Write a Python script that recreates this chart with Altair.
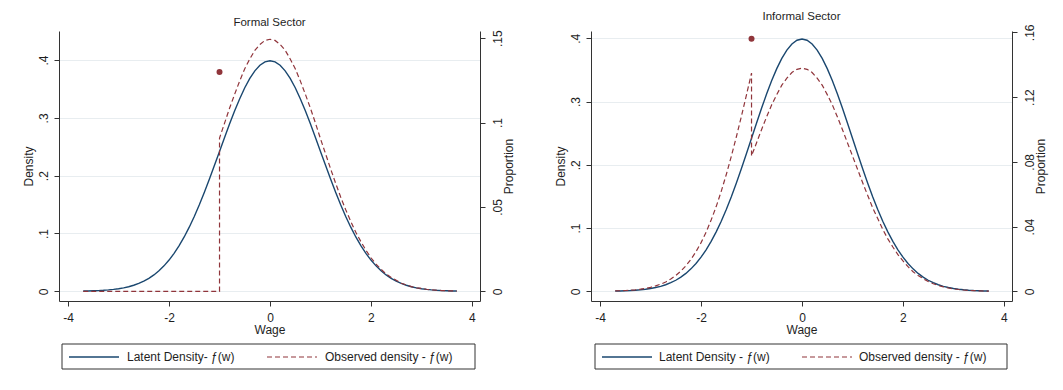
import altair as alt
import pandas as pd

# ---------------- data ----------------
wage = [-3.7, -3.6, -3.5, -3.4, -3.3, -3.2, -3.1, -3.0, -2.9, -2.8, -2.7, -2.6, -2.5,
        -2.4, -2.3, -2.2, -2.1, -2.0, -1.9, -1.8, -1.7, -1.6, -1.5, -1.4, -1.3, -1.2,
        -1.1, -1.0, -0.9, -0.8, -0.7, -0.6, -0.5, -0.4, -0.3, -0.2, -0.1, 0.0,
        0.1, 0.2, 0.3, 0.4, 0.5, 0.6, 0.7, 0.8, 0.9, 1.0, 1.1, 1.2, 1.3, 1.4, 1.5,
        1.6, 1.7, 1.8, 1.9, 2.0, 2.1, 2.2, 2.3, 2.4, 2.5, 2.6, 2.7, 2.8, 2.9, 3.0,
        3.1, 3.2, 3.3, 3.4, 3.5, 3.6, 3.7]

latent_density = [0.0004, 0.0006, 0.0009, 0.0012, 0.0017, 0.0024, 0.0033, 0.0044, 0.0060,
                  0.0079, 0.0104, 0.0136, 0.0175, 0.0224, 0.0283, 0.0355, 0.0440, 0.0540,
                  0.0656, 0.0790, 0.0940, 0.1109, 0.1295, 0.1497, 0.1714, 0.1942, 0.2179,
                  0.2420, 0.2661, 0.2897, 0.3123, 0.3332, 0.3521, 0.3683, 0.3814, 0.3910,
                  0.3970, 0.3989,
                  0.3970, 0.3910, 0.3814, 0.3683, 0.3521, 0.3332, 0.3123, 0.2897, 0.2661,
                  0.2420, 0.2179, 0.1942, 0.1714, 0.1497, 0.1295, 0.1109, 0.0940, 0.0790,
                  0.0656, 0.0540, 0.0440, 0.0355, 0.0283, 0.0224, 0.0175, 0.0136, 0.0104,
                  0.0079, 0.0060, 0.0044, 0.0033, 0.0024, 0.0017, 0.0012, 0.0009, 0.0006,
                  0.0004]

# Formal sector observed density (zero below the cut-off at -1, then jumps up)
formal_obs_wage = [-3.7, -1.0, -1.0, -0.9, -0.8, -0.7, -0.6, -0.5, -0.4, -0.3, -0.2, -0.1, 0.0,
                   0.1, 0.2, 0.3, 0.4, 0.5, 0.6, 0.7, 0.8, 0.9, 1.0, 1.1, 1.2, 1.3, 1.4, 1.5,
                   1.6, 1.7, 1.8, 1.9, 2.0, 2.1, 2.2, 2.3, 2.4, 2.5, 2.6, 2.7, 2.8, 2.9, 3.0,
                   3.1, 3.2, 3.3, 3.4, 3.5, 3.6, 3.7]
formal_obs_density = [0.0, 0.0, 0.265, 0.291, 0.317, 0.341, 0.364, 0.385, 0.402, 0.417, 0.427,
                      0.434, 0.436, 0.434, 0.427, 0.417, 0.402, 0.385, 0.364, 0.341, 0.317,
                      0.291, 0.264, 0.238, 0.212, 0.187, 0.163, 0.141, 0.121, 0.102, 0.086,
                      0.071, 0.058, 0.047, 0.038, 0.030, 0.024, 0.019, 0.014, 0.011, 0.008,
                      0.006, 0.005, 0.0035, 0.0025, 0.0018, 0.0013, 0.0009, 0.0006, 0.0004]

# Informal sector observed density (spike just below -1, then drop)
informal_obs_wage = [-3.7, -3.6, -3.5, -3.4, -3.3, -3.2, -3.1, -3.0, -2.9, -2.8, -2.7, -2.6,
                     -2.5, -2.4, -2.3, -2.2, -2.1, -2.0, -1.9, -1.8, -1.7, -1.6, -1.5, -1.4,
                     -1.3, -1.2, -1.1, -1.0,
                     -1.0, -0.9, -0.8, -0.7, -0.6, -0.5, -0.4, -0.3, -0.2, -0.1, 0.0,
                     0.1, 0.2, 0.3, 0.4, 0.5, 0.6, 0.7, 0.8, 0.9, 1.0, 1.1, 1.2, 1.3, 1.4,
                     1.5, 1.6, 1.7, 1.8, 1.9, 2.0, 2.1, 2.2, 2.3, 2.4, 2.5, 2.6, 2.7, 2.8,
                     2.9, 3.0, 3.1, 3.2, 3.3, 3.4, 3.5, 3.6, 3.7]
informal_obs_density = [0.0006, 0.0009, 0.0013, 0.0017, 0.0024, 0.0034, 0.0047, 0.0063, 0.0086,
                        0.0113, 0.0148, 0.0194, 0.0250, 0.0319, 0.0404, 0.0506, 0.0627, 0.0770,
                        0.0935, 0.1127, 0.1340, 0.1581, 0.1847, 0.2135, 0.2444, 0.2769, 0.3107,
                        0.345,
                        0.214, 0.235, 0.256, 0.276, 0.295, 0.311, 0.326, 0.337, 0.346, 0.351,
                        0.353, 0.351, 0.346, 0.337, 0.326, 0.311, 0.295, 0.276, 0.256, 0.235,
                        0.214, 0.193, 0.172, 0.152, 0.132, 0.115, 0.098, 0.083, 0.070, 0.058,
                        0.048, 0.039, 0.031, 0.025, 0.020, 0.0155, 0.012, 0.0092, 0.007, 0.0053,
                        0.0039, 0.0029, 0.0021, 0.0015, 0.0011, 0.0008, 0.0005, 0.0004]

# Proportion at the minimum wage (right axis)
formal_point_wage = [-1.0]
formal_point_prop = [0.13]
informal_point_wage = [-1.0]
informal_point_prop = [0.156]

x_ticks = [-4, -2, 0, 2, 4]
density_ticks = [0, 0.1, 0.2, 0.3, 0.4]
formal_prop_ticks = [0, 0.05, 0.1, 0.15]
informal_prop_ticks = [0, 0.04, 0.08, 0.12, 0.16]

NAVY = "#1a476f"
MAROON = "#90353b"
FONT = "Liberation Sans"
INK = "#1e1e1e"
LABEL_EXPR = "datum.value == 0 ? '0' : replace(format(datum.value, '.2~f'), '0.', '.')"
X_LABEL_EXPR = "datum.value < 0 ? '-' + abs(datum.value) : '' + datum.value"

W, H = 421, 270


def panel(title, obs_w, obs_d, pt_w, pt_p, ydom, pdom, pticks, leg):
    lat_df = pd.DataFrame({"x": wage, "d": latent_density})
    obs_df = pd.DataFrame({"x": obs_w, "d": obs_d, "i": list(range(len(obs_w)))})
    pt_df = pd.DataFrame({"x": pt_w, "p": pt_p})

    xsc = alt.Scale(domain=[-4.18, 4.16], nice=False, zero=False)
    ysc = alt.Scale(domain=ydom, nice=False, zero=False)

    xaxis = alt.Axis(values=x_ticks, title="Wage", grid=False, labelAngle=0,
                     labelExpr=X_LABEL_EXPR,
                     tickSize=5, labelPadding=6, titlePadding=1, labelFontSize=12,
                     titleFontSize=12)
    yaxis = alt.Axis(values=density_ticks, title="Density", orient="left", grid=True,
                     labelAngle=-90, labelExpr=LABEL_EXPR, tickSize=5, labelPadding=4,
                     titlePadding=2, labelFontSize=12, titleFontSize=12)
    paxis = alt.Axis(values=pticks, title="Proportion", orient="right", grid=False,
                     labelAngle=-90, labelExpr=LABEL_EXPR, tickSize=5, labelPadding=7,
                     titlePadding=0, titleAngle=270, titleBaseline="top",
                     labelFontSize=12, titleFontSize=12)

    latent = alt.Chart(lat_df).mark_line(color=NAVY, strokeWidth=1.4).encode(
        x=alt.X("x:Q", scale=xsc, axis=xaxis),
        y=alt.Y("d:Q", scale=ysc, axis=yaxis),
    )
    observed = alt.Chart(obs_df).mark_line(color=MAROON, strokeWidth=1.2,
                                            strokeDash=[5, 3]).encode(
        x=alt.X("x:Q", scale=xsc),
        y=alt.Y("d:Q", scale=ysc),
        order=alt.Order("i:Q"),
    )
    dens = alt.layer(latent, observed)

    point = alt.Chart(pt_df).mark_circle(color=MAROON, opacity=1, size=36).encode(
        x=alt.X("x:Q", scale=xsc),
        y=alt.Y("p:Q", scale=alt.Scale(domain=pdom, nice=False, zero=False), axis=paxis),
    )

    # legend box below the plot
    one = pd.DataFrame({"k": [0]})
    box = alt.Chart(one).mark_rect(fill="white", stroke="#333333", strokeWidth=1).encode(
        x=alt.value(leg["x0"]), x2=alt.value(leg["x1"]),
        y=alt.value(313), y2=alt.value(338))
    s1 = alt.Chart(one).mark_rule(color=NAVY, strokeWidth=1.4).encode(
        x=alt.value(leg["s1"]), x2=alt.value(leg["s1"] + 50), y=alt.value(326))
    s2 = alt.Chart(one).mark_rule(color=MAROON, strokeWidth=1.2, strokeDash=[5, 3]).encode(
        x=alt.value(leg["s2"]), x2=alt.value(leg["s2"] + 50), y=alt.value(326))
    t1 = alt.Chart(one).mark_text(align="left", baseline="middle", fontSize=12, font=FONT,
                                  color=INK).encode(
        x=alt.value(leg["t1"]), y=alt.value(326), text=alt.value(leg["l1"]))
    t2 = alt.Chart(one).mark_text(align="left", baseline="middle", fontSize=12, font=FONT,
                                  color=INK).encode(
        x=alt.value(leg["t2"]), y=alt.value(326), text=alt.value(leg["l2"]))

    return alt.layer(dens, point, box, s1, s2, t1, t2).resolve_scale(y="independent").properties(
        width=W, height=H,
        title=alt.TitleParams(title, fontSize=11.5, fontWeight="normal", font=FONT,
                              color=INK, anchor="middle", offset=1),
    )


left = panel("Formal Sector", formal_obs_wage, formal_obs_density,
             formal_point_wage, formal_point_prop,
             [-0.0168, 0.4503], [-0.00575, 0.1543], formal_prop_ticks,
             {"x0": 3, "x1": 416, "s1": 10, "t1": 68, "s2": 208, "t2": 266,
              "l1": "Latent Density-  ƒ(w)", "l2": "Observed density -  ƒ(w)"})
right = panel("Informal Sector", informal_obs_wage, informal_obs_density,
              informal_point_wage, informal_point_prop,
              [-0.0153, 0.4116], [-0.0060, 0.1608], informal_prop_ticks,
              {"x0": 4, "x1": 416, "s1": 11, "t1": 68, "s2": 211, "t2": 268,
               "l1": "Latent Density -  ƒ(w)", "l2": "Observed density -  ƒ(w)"})

chart = alt.hconcat(left, right, spacing=111, bounds="flush").properties(
    padding={"left": 14, "top": 3, "right": 5, "bottom": 5},
    background="white",
).configure_view(strokeWidth=0).configure_axis(
    labelFont=FONT, titleFont=FONT, labelColor=INK, titleColor=INK,
    domainColor="#333333", tickColor="#333333", gridColor="#e8edf0",
    titleFontWeight="normal", domainWidth=1, tickWidth=1,
)

chart.save("out.html", embed_options={"renderer": "svg", "actions": False})
